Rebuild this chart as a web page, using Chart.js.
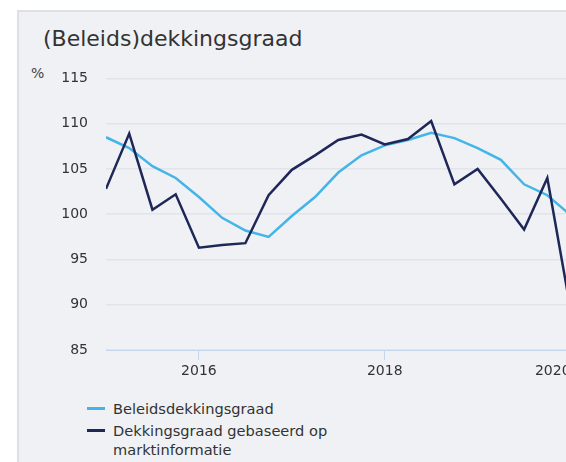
<!DOCTYPE html>
<html>
<head>
<meta charset="utf-8">
<script src="https://cdn.jsdelivr.net/npm/chart.js@4"></script>
<style>
  html, body { margin: 0; padding: 0; background: #fff; overflow: hidden; }
  body { width: 566px; height: 462px; position: relative; font-family: "DejaVu Sans", Verdana, sans-serif; }
  #paneel {
    position: absolute; left: 17px; top: 10px; width: 700px; height: 500px;
    background: #eff1f5; border-left: 2px solid #dfe0e4; border-top: 2px solid #dfe0e4;
    box-sizing: border-box;
  }
  #titel { position: absolute; left: 43px; top: 28px; font-size: 22px; line-height: 22px; color: #333; white-space: nowrap; }
  #eenheid { position: absolute; left: 31px; top: 65px; font-size: 14px; line-height: 16px; color: #444; }
  #grafiek { position: absolute; left: 17px; top: 52px; }
  #legenda { position: absolute; left: 87px; top: 399px; font-size: 14.6px; line-height: 19px; color: #333; }
  .item { display: flex; align-items: flex-start; margin-bottom: 3px; }
  .streep { width: 18px; height: 3px; margin-top: 8px; margin-right: 8px; flex: none; }
</style>
</head>
<body>
<div id="paneel"></div>
<div id="titel">(Beleids)dekkingsgraad</div>
<div id="eenheid">%</div>
<canvas id="grafiek" width="600" height="328"></canvas>
<div id="legenda"></div>
<script>
// kwartalen als jaartal (2015.00 = begin 2015)
const kwartalen = [2015.00, 2015.25, 2015.50, 2015.75, 2016.00, 2016.25, 2016.50, 2016.75,
  2017.00, 2017.25, 2017.50, 2017.75, 2018.00, 2018.25, 2018.50, 2018.75,
  2019.00, 2019.25, 2019.50, 2019.75, 2020.00];
const beleidsdekkingsgraad = [108.5, 107.3, 105.3, 104.0, 101.9, 99.6, 98.2, 97.5,
  99.8, 101.9, 104.6, 106.5, 107.6, 108.2, 109.0, 108.4,
  107.3, 106.0, 103.3, 102.1, 99.9];
const marktDekkingsgraad = [102.8, 108.9, 100.5, 102.2, 96.3, 96.6, 96.8, 102.1,
  104.9, 106.5, 108.2, 108.8, 107.7, 108.3, 110.3, 103.3,
  105.0, 101.7, 98.3, 104.0, 89.5];
const jaarTicks = [2016, 2018, 2020];
const reeksNamen = ["Beleidsdekkingsgraad", ["Dekkingsgraad gebaseerd op", "marktinformatie"]];
const kleuren = ["#43b5e6", "#1e2757"];

Chart.defaults.font.family = '"DejaVu Sans", Verdana, sans-serif';
Chart.defaults.color = "#333";

const reeksen = [beleidsdekkingsgraad, marktDekkingsgraad];
const datasets = reeksen.map((reeks, i) => ({
  label: reeksNamen[i],
  data: reeks.map((v, j) => ({ x: kwartalen[j], y: v })),
  borderColor: kleuren[i],
  backgroundColor: kleuren[i],
  borderWidth: 2.5,
  pointRadius: 0,
  tension: 0,
  order: 2 - i
}));

const asKleur = "#c6d5ec";
const ctx = document.getElementById("grafiek").getContext("2d");
new Chart(ctx, {
  type: "line",
  data: { datasets },
  options: {
    responsive: false,
    animation: false,
    layout: { padding: { top: 14, left: 0, right: 0, bottom: 0 } },
    plugins: { legend: { display: false }, tooltip: { enabled: false } },
    scales: {
      x: {
        type: "linear",
        min: 2015,
        max: 2020.5,
        // lege tick op de startwaarde zodat 'inner' alleen de laatste label verschuift
        afterBuildTicks: (s) => { s.ticks = [s.min, ...jaarTicks].map((v) => ({ value: v })); },
        afterFit: (s) => { s.height = 30; },
        ticks: {
          font: { size: 14 }, padding: 3, align: "inner",
          callback: (v) => (jaarTicks.includes(v) ? String(v) : "")
        },
        grid: {
          drawOnChartArea: false, drawTicks: true, tickLength: 10, color: asKleur,
          tickColor: (c) => (c.tick && jaarTicks.includes(c.tick.value) ? asKleur : "rgba(0,0,0,0)")
        },
        border: { color: asKleur, width: 1 }
      },
      y: {
        min: 85,
        max: 115,
        afterFit: (s) => { s.width = 89; },
        ticks: { stepSize: 5, font: { size: 14 }, padding: 18 },
        grid: { drawTicks: false, color: "#e2e4e9", lineWidth: 1.5 },
        border: { display: false }
      }
    }
  }
});

// legenda
const legenda = document.getElementById("legenda");
reeksNamen.forEach((naam, i) => {
  const regels = Array.isArray(naam) ? naam : [naam];
  legenda.innerHTML += `
    <div class="item">
      <div class="streep" style="background:${kleuren[i]}"></div>
      <div>${regels.join("<br>")}</div>
    </div>`;
});
</script>
</body>
</html>
